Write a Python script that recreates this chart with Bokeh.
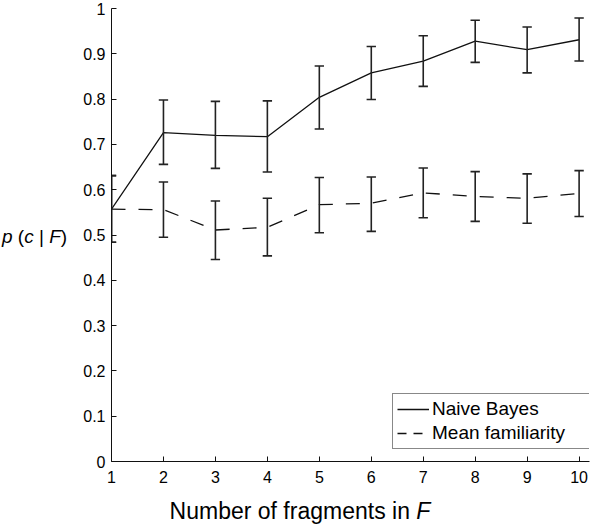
from bokeh.plotting import figure
from bokeh.models import Range1d, FixedTicker, Legend, LegendItem, ColumnDataSource, Div
from bokeh.layouts import row, column
from bokeh.transform import dodge
from bokeh.embed import file_html
from bokeh.resources import INLINE

# ---- data ----
n_fragments = [1, 2, 3, 4, 5, 6, 7, 8, 9, 10]
naive_bayes = [0.557, 0.726, 0.720, 0.717, 0.804, 0.858, 0.884, 0.928, 0.909, 0.931]
naive_bayes_upper = [0.631, 0.798, 0.795, 0.796, 0.873, 0.916, 0.940, 0.974, 0.959, 0.979]
naive_bayes_lower = [0.484, 0.656, 0.647, 0.639, 0.734, 0.799, 0.828, 0.881, 0.858, 0.884]
mean_familiarity = [0.557, 0.556, 0.511, 0.517, 0.567, 0.570, 0.593, 0.585, 0.581, 0.592]
mean_familiarity_upper = [0.631, 0.617, 0.575, 0.581, 0.627, 0.628, 0.648, 0.640, 0.635, 0.642]
mean_familiarity_lower = [0.484, 0.495, 0.446, 0.454, 0.505, 0.508, 0.538, 0.530, 0.526, 0.541]
x_ticks = [1, 2, 3, 4, 5, 6, 7, 8, 9, 10]
y_ticks = [0, 0.1, 0.2, 0.3, 0.4, 0.5, 0.6, 0.7, 0.8, 0.9, 1]
y_tick_labels = ["0", "0.1", "0.2", "0.3", "0.4", "0.5", "0.6", "0.7", "0.8", "0.9", "1"]
series_names = ["Naive Bayes", "Mean familiarity"]
x_title_html = "Number of fragments in <i>F</i>"
y_title_html = "<i>p</i> (<i>c</i> | <i>F</i>)"

FONT = "Liberation Sans"
INK = "#111111"

YDIV_W = 70          # width of the left strip holding the y title
FIG_W, FIG_H = 530, 490
XDIV_H = 38

p = figure(width=FIG_W, height=FIG_H, x_range=Range1d(1, 10.2), y_range=Range1d(0, 1),
           output_backend="svg", toolbar_location=None,
           min_border_left=41, min_border_right=11, min_border_top=8, min_border_bottom=29)
p.outline_line_color = None
p.grid.visible = False
p.background_fill_color = "white"
p.border_fill_color = "white"

for ax in (p.xaxis[0], p.yaxis[0]):
    ax.axis_line_color = INK
    ax.axis_line_width = 1
    ax.major_tick_line_color = INK
    ax.major_tick_in = 5
    ax.major_tick_out = 0
    ax.minor_tick_line_color = None
    ax.major_label_text_font = FONT
    ax.major_label_text_font_size = "16px"
    ax.major_label_text_color = "black"
p.yaxis[0].major_label_standoff = 6
p.xaxis[0].major_label_standoff = 9

p.xaxis[0].ticker = FixedTicker(ticks=x_ticks)
p.yaxis[0].ticker = FixedTicker(ticks=y_ticks)
p.yaxis[0].major_label_overrides = {t: l for t, l in zip(y_ticks, y_tick_labels)}

src = ColumnDataSource(dict(x=n_fragments, nb=naive_bayes, nb_hi=naive_bayes_upper, nb_lo=naive_bayes_lower,
                            mf=mean_familiarity, mf_hi=mean_familiarity_upper, mf_lo=mean_familiarity_lower))

r_nb = p.line("x", "nb", source=src, line_color=INK, line_width=1.3)
r_mf = p.line("x", "mf", source=src, line_color=INK, line_width=1.3, line_dash="14 13")

CAP = 0.09
for lo, hi in (("nb_lo", "nb_hi"), ("mf_lo", "mf_hi")):
    p.segment(x0="x", y0=lo, x1="x", y1=hi, source=src, line_color="#222222", line_width=1.6)
    for end in (lo, hi):
        p.segment(x0=dodge("x", -CAP), y0=end, x1=dodge("x", CAP), y1=end, source=src,
                  line_color="#222222", line_width=1.6)

# legend key for the dashed series: one-point line (draws nothing in the plot),
# carrying the shorter dash pattern seen in the reference key
key_src = ColumnDataSource(dict(x=n_fragments[:1], y=mean_familiarity[:1]))
r_mf_key = p.line("x", "y", source=key_src, line_color=INK, line_width=1.3, line_dash="9 7")

legend = Legend(items=[LegendItem(label=series_names[0], renderers=[r_nb]),
                       LegendItem(label=series_names[1], renderers=[r_mf_key])],
                location=(281, 12))
legend.border_line_color = INK
legend.border_line_width = 1
legend.background_fill_color = "white"
legend.background_fill_alpha = 1
legend.padding = 4
legend.spacing = 2
legend.margin = 0
legend.glyph_width = 32
legend.glyph_height = 18
legend.label_height = 18
legend.label_width = 154
legend.label_standoff = 3
legend.label_text_font = FONT
legend.label_text_font_size = "19px"
legend.label_text_color = "black"
p.add_layout(legend)

y_div = Div(width=YDIV_W, height=FIG_H, margin=0,
            text=('<div style="font-family:\'Liberation Sans\'; font-size:19px; line-height:19px; '
                  'color:black; padding-top:227px; padding-left:2px; white-space:nowrap;">'
                  + y_title_html + '</div>'))
x_div = Div(width=YDIV_W + FIG_W, height=XDIV_H, margin=0,
            text=('<div style="font-family:\'Liberation Sans\'; font-size:23px; line-height:23px; '
                  'color:black; padding-top:10px; padding-left:100px; width:500px; text-align:center; '
                  'white-space:nowrap;">' + x_title_html + '</div>'))

layout = column(row(y_div, p, spacing=0), x_div, spacing=0)

open("out.html", "w").write(file_html(layout, INLINE))
